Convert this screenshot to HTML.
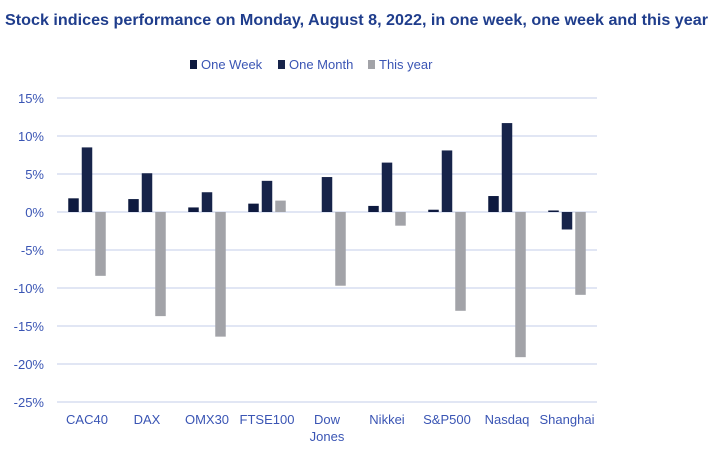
<!DOCTYPE html>
<html><head><meta charset="utf-8"><style>
body{margin:0;background:#fff;font-family:"Liberation Sans",sans-serif}
svg text{font-family:"Liberation Sans",sans-serif}
</style></head><body>
<svg width="715" height="458" xmlns="http://www.w3.org/2000/svg">
<text x="5" y="25" font-size="16" font-weight="bold" fill="#1f3d8c" textLength="703" lengthAdjust="spacingAndGlyphs">Stock indices performance on Monday, August 8, 2022, in one week, one week and this year</text>
<g id="legend"></g>
<g id="grid"></g><g id="bars"></g><g id="labels"></g>
</svg>
<script>
const categories=["CAC40","DAX","OMX30","FTSE100","Dow|Jones","Nikkei","S&P500","Nasdaq","Shanghai"];
const oneWeek=[1.8,1.7,0.6,1.1,0,0.8,0.3,2.1,0.2];
const oneMonth=[8.5,5.1,2.6,4.1,4.6,6.5,8.1,11.7,-2.3];
const thisYear=[-8.4,-13.7,-16.4,1.5,-9.7,-1.8,-13.0,-19.1,-10.9];
const ticks=[15,10,5,0,-5,-10,-15,-20,-25];
const seriesNames=["One Week","One Month","This year"];
const NS="http://www.w3.org/2000/svg";
const x0=57,x1=597,yTop=98,yBot=402,vMax=15,vMin=-25;
const y=v=>yTop+(vMax-v)*(yBot-yTop)/(vMax-vMin);
const step=(x1-x0)/categories.length;
const cx=i=>x0+step*(i+0.5);
function mk(t,a,p){const e=document.createElementNS(NS,t);for(const k in a)e.setAttribute(k,a[k]);p.appendChild(e);return e;}
const grid=document.getElementById('grid'),bars=document.getElementById('bars'),labels=document.getElementById('labels'),legend=document.getElementById('legend');
ticks.forEach(t=>{
 const l=mk('line',{x1:x0,x2:x1,y1:y(t),y2:y(t),stroke:'#cfd6ee','stroke-width':1.3},grid);
 
 
 const tx=mk('text',{x:44,y:y(t)+5,'text-anchor':'end','font-size':13,fill:'#3a55b4'},labels);
 tx.textContent=t+'%';
 
 
});
const colors=["#0e1a3f","#17244a","#a2a3a8"];
const series=[oneWeek,oneMonth,thisYear];
const bw=10.5,off=[-13.5,0,13.5];
series.forEach((s,si)=>s.forEach((v,i)=>{
 if(v===0)return;
 const r=mk('rect',{x:cx(i)+off[si]-bw/2,y:Math.min(y(v),y(0)),width:bw,height:Math.abs(y(v)-y(0)),fill:colors[si]},bars);
 
 
}));
categories.forEach((c,i)=>{
 c.split('|').forEach((p,k)=>{
  const t=mk('text',{x:cx(i),y:424+k*17,'text-anchor':'middle','font-size':13,fill:'#3a55b4'},labels);
  t.textContent=p;
  
  
 });
});
const lx=[190,278,368];
seriesNames.forEach((n,i)=>{
 const r=mk('rect',{x:lx[i],y:60,width:7,height:9,fill:colors[i]},legend);
 
 
 const t=mk('text',{x:lx[i]+11,y:69,'font-size':13,fill:'#3a55b4'},legend);
 t.textContent=n;
 
 
});
</script>
</body></html>
